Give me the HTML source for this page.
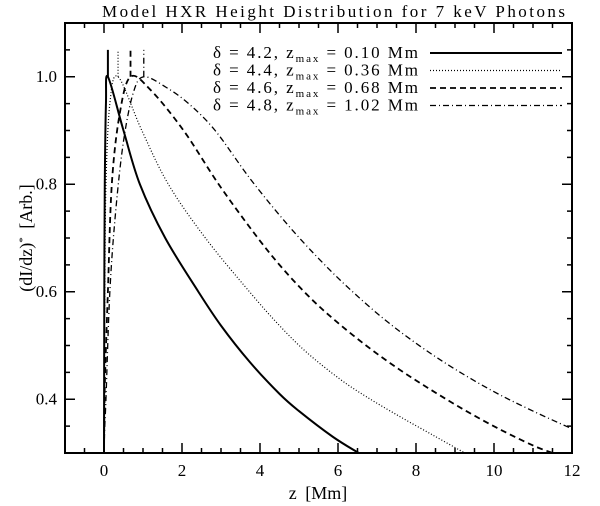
<!DOCTYPE html>
<html><head><meta charset="utf-8"><style>
html,body{margin:0;padding:0;background:#fff;}
svg{display:block;font-family:"Liberation Serif",serif;}
</style></head><body>
<svg id="chart" width="600" height="506">
<text x="102" y="17" textLength="463" lengthAdjust="spacing" font-size="17">Model HXR Height Distribution for 7 keV Photons</text>
<g id="axes"></g>
<g id="series"></g>
<g id="legend"></g>
<text x="318" y="499" text-anchor="middle" font-size="18" word-spacing="4">z [Mm]</text>
<text transform="translate(32,238) rotate(-90)" text-anchor="middle" font-size="18" word-spacing="4">(dI/dz)<tspan dy="-6" font-size="11">*</tspan><tspan dy="6"> [Arb.]</tspan></text>
</svg>
<script>
const xTicks=[0,2,4,6,8,10,12];
const yTicks=[0.4,0.6,0.8,1.0];
const labels=["δ = 4.2, z","δ = 4.4, z","δ = 4.6, z","δ = 4.8, z"];
const zmaxLabels=["0.10","0.36","0.68","1.02"];
const zmax=[0.10,0.36,0.68,1.02];
const zS=[0,0.005,0.01,0.02,0.05,0.1,0.5,0.92,1.57,2.42,3.0,3.73,4.5,5.0,5.87,6.53];
const vS=[0.3,0.5,0.65,0.8,0.95,1.0,0.9,0.8,0.7,0.6,0.537,0.47,0.41,0.378,0.33,0.30];
const zD=[0,0.01,0.02,0.05,0.15,0.36,0.97,1.65,2.6,3.73,4.5,5.2,6.04,6.72,7.58,8.44,9.25];
const vD=[0.3,0.5,0.6,0.8,0.95,1.0,0.9,0.8,0.7,0.6,0.537,0.487,0.438,0.405,0.368,0.333,0.30];
const zA=[0,0.01,0.03,0.1,0.2,0.4,0.68,1.2,2.04,2.94,3.84,4.5,5.2,5.87,6.72,7.58,8.44,9.29,10.15,11.0,11.5];
const vA=[0.3,0.38,0.45,0.6,0.8,0.93,1.0,0.975,0.9,0.8,0.71,0.65,0.595,0.55,0.5,0.455,0.415,0.378,0.344,0.314,0.30];
const zB=[0,0.02,0.05,0.15,0.3,0.5,0.75,1.02,1.6,2.17,2.85,3.75,4.67,5.5,6.3,7.2,8.1,9.0,10.0,11.0,12.0];
const vB=[0.3,0.35,0.4,0.6,0.75,0.88,0.97,1.0,0.98,0.95,0.9,0.81,0.728,0.662,0.605,0.548,0.499,0.456,0.414,0.378,0.345];
const L=65,R=572,T=23,B=453,X0=-1,X1=12,Y0=0.3,Y1=1.1;
const sx=z=>L+(z-X0)/(X1-X0)*(R-L);
const sy=v=>B-(v-Y0)/(Y1-Y0)*(B-T);
const NS="http://www.w3.org/2000/svg";
function mk(tag,attrs,parent){const e=document.createElementNS(NS,tag);for(const k in attrs)e.setAttribute(k,attrs[k]);parent.appendChild(e);return e;}
function smooth(P){let d='M'+P[0][0]+','+P[0][1];
 for(let i=0;i<P.length-1;i++){const p0=P[i-1]||P[i],p1=P[i],p2=P[i+1],p3=P[i+2]||p2;
  const c1=[p1[0]+(p2[0]-p0[0])/6,p1[1]+(p2[1]-p0[1])/6],c2=[p2[0]-(p3[0]-p1[0])/6,p2[1]-(p3[1]-p1[1])/6];
  d+=' C'+c1[0]+','+c1[1]+' '+c2[0]+','+c2[1]+' '+p2[0]+','+p2[1];}
 return d;}
const axes=document.getElementById('axes');
const frame=mk('rect',{x:L,y:T,width:R-L,height:B-T,fill:'none',stroke:'#000','stroke-width':2},axes);


for(let z=-1;z<=12.001;z+=0.5){const maj=Math.abs(z-Math.round(z/2)*2)<1e-6;const len=maj?10:5;
 mk('line',{x1:sx(z),x2:sx(z),y1:B,y2:B-len,stroke:'#000','stroke-width':1.5},axes);
 mk('line',{x1:sx(z),x2:sx(z),y1:T,y2:T+len,stroke:'#000','stroke-width':1.5},axes);}
for(let v=0.3;v<=1.1001;v+=0.05){const maj=Math.abs(v*10-Math.round(v*10))<1e-6&&Math.round(v*10)%2===0;const len=maj?10:5;
 mk('line',{x1:L,x2:L+len,y1:sy(v),y2:sy(v),stroke:'#000','stroke-width':1.5},axes);
 mk('line',{x1:R,x2:R-len,y1:sy(v),y2:sy(v),stroke:'#000','stroke-width':1.5},axes);}
xTicks.forEach(t=>{const e=mk('text',{x:sx(t),y:B+23,'text-anchor':'middle','font-size':17},axes);e.textContent=t;
 
 });
yTicks.forEach(t=>{const e=mk('text',{x:L-8,y:sy(t)+5,'text-anchor':'end','font-size':17},axes);e.textContent=t.toFixed(1);
 
 });
const ser=document.getElementById('series');
const styles=[{d:'none',w:2},{d:'1 2',w:1.2},{d:'6 4',w:1.8},{d:'6 3 1 3',w:1.3}];
const data=[[zS,vS],[zD,vD],[zA,vA],[zB,vB]];
const names=['series-delta-4-2','series-delta-4-4','series-delta-4-6','series-delta-4-8'];
data.forEach((d,i)=>{const pts=d[0].map((z,j)=>[sx(z),sy(d[1][j])]);
 const p=mk('path',{d:smooth(pts),fill:'none',stroke:'#000','stroke-width':styles[i].w,'stroke-dasharray':styles[i].d},ser);
 
 
 const s=mk('line',{x1:sx(zmax[i]),x2:sx(zmax[i]),y1:sy(1.0),y2:sy(1.05),stroke:'#000','stroke-width':styles[i].w,'stroke-dasharray':styles[i].d},ser);
 
 });
const lg=document.getElementById('legend');
labels.forEach((lab,i)=>{const y=58+i*17.5;
 const t=mk('text',{x:213,y:y,'font-size':17,textLength:205,lengthAdjust:'spacing'},lg);
 t.innerHTML=lab.replace(/ /g,'\u00a0')+'<tspan dy="4" font-size="11">max</tspan><tspan dy="-4">\u00a0=\u00a0'+zmaxLabels[i]+'\u00a0Mm</tspan>';
 
 
 const l=mk('line',{x1:430,x2:562,y1:y-5,y2:y-5,stroke:'#000','stroke-width':styles[i].w,'stroke-dasharray':styles[i].d},lg);
 
 });
</script>
</body></html>
